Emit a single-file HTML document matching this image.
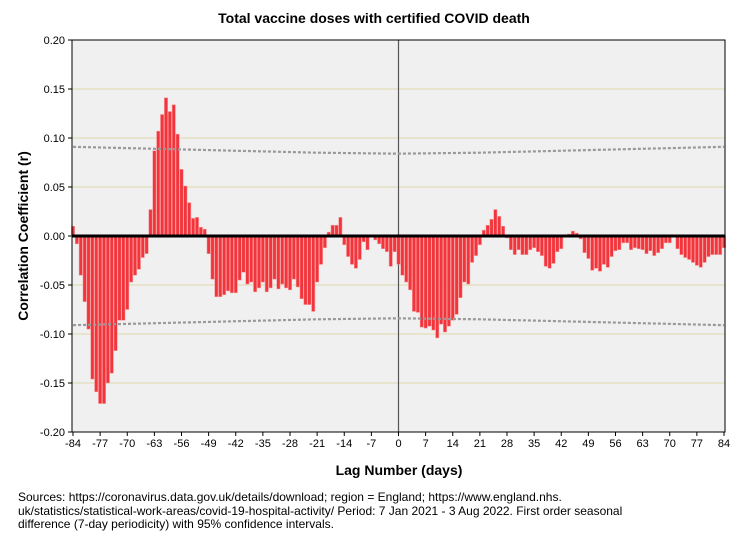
<!DOCTYPE html>
<html><head><meta charset="utf-8">
<style>
body{margin:0;background:#fff;font-family:"Liberation Sans",Arial,sans-serif;}
#wrap{position:relative;width:747px;height:541px;overflow:hidden;}
#src{position:absolute;left:18px;top:491px;width:720px;font-size:12px;line-height:13.5px;color:#000;white-space:nowrap;}
</style></head>
<body>
<div id="wrap">
<svg id="chart" width="747" height="541" style="position:absolute;left:0;top:0"></svg>
<div id="src">Sources: https://coronavirus.data.gov.uk/details/download; region = England; https://www.england.nhs.<br>uk/statistics/statistical-work-areas/covid-19-hospital-activity/ Period: 7 Jan 2021 - 3 Aug 2022. First order seasonal<br>difference (7-day periodicity) with 95% confidence intervals.</div>
</div>
<script>
const lagStart = -84;
const values = [
0.010,-0.008,-0.040,-0.067,-0.095,-0.146,-0.159,-0.171,-0.171,-0.150,-0.140,-0.117,-0.086,-0.086,-0.075,-0.047,-0.040,-0.034,-0.022,-0.018,
0.027,0.087,0.107,0.124,0.141,0.127,0.134,0.104,0.068,0.051,0.034,0.018,0.019,0.009,0.007,-0.018,-0.044,-0.062,-0.062,-0.060,
-0.056,-0.058,-0.058,-0.045,-0.037,-0.049,-0.047,-0.057,-0.053,-0.047,-0.057,-0.053,-0.044,-0.054,-0.049,-0.053,-0.055,-0.044,-0.052,-0.064,
-0.070,-0.070,-0.077,-0.047,-0.029,-0.012,0.004,0.011,0.011,0.019,-0.009,-0.021,-0.029,-0.033,-0.024,-0.006,-0.014,0.000,-0.004,-0.008,
-0.013,-0.016,-0.031,-0.016,-0.029,-0.040,-0.047,-0.055,-0.077,-0.078,-0.093,-0.094,-0.092,-0.096,-0.104,-0.090,-0.098,-0.092,-0.086,-0.080,
-0.063,-0.047,-0.049,-0.027,-0.020,-0.009,0.006,0.011,0.017,0.027,0.020,0.010,-0.002,-0.014,-0.019,-0.014,-0.019,-0.019,-0.014,-0.012,
-0.016,-0.020,-0.031,-0.033,-0.028,-0.016,-0.013,0.001,0.002,0.005,0.003,-0.003,-0.017,-0.023,-0.035,-0.033,-0.036,-0.029,-0.032,-0.021,
-0.015,-0.014,-0.007,-0.007,-0.014,-0.012,-0.013,-0.014,-0.018,-0.015,-0.020,-0.017,-0.013,-0.007,-0.007,-0.001,-0.013,-0.019,-0.022,-0.024,
-0.027,-0.030,-0.032,-0.027,-0.021,-0.019,-0.019,-0.019,-0.012
];
const ciLags = [-84,-63,-42,-21,0,21,42,63,84];
const ciUpper = [0.091,0.089,0.087,0.085,0.084,0.085,0.087,0.089,0.091];
const yTicks = [0.20,0.15,0.10,0.05,0.00,-0.05,-0.10,-0.15,-0.20];
const xTicks = [-84,-77,-70,-63,-56,-49,-42,-35,-28,-21,-14,-7,0,7,14,21,28,35,42,49,56,63,70,77,84];

const NS="http://www.w3.org/2000/svg";
const svg=document.getElementById('chart');
const L=72,R=725,T=40,B=432;
const xS=l=>L+1+(l+84)*(R-L-2)/168;
const yS=v=>T+(0.2-v)*(B-T)/0.4;
function mk(tag,attrs,parent){const e=document.createElementNS(NS,tag);for(const k in attrs)e.setAttribute(k,attrs[k]);(parent||svg).appendChild(e);return e;}

const bg=mk('rect',{x:L,y:T,width:R-L,height:B-T,fill:'#f0f0f0'});



yTicks.forEach(v=>{
  if(Math.abs(v)>0.001&&Math.abs(v)<0.2){
    const g=mk('line',{x1:L,x2:R,y1:yS(v),y2:yS(v),stroke:'#dcd7a8','stroke-width':1});
    
    
  }
  mk('line',{x1:L-4,x2:L,y1:yS(v),y2:yS(v),stroke:'#000'});
  const t=mk('text',{x:L-7,y:yS(v)+4,'text-anchor':'end','font-size':11,fill:'#000'});
  t.textContent=v.toFixed(2);
  
  
});

const vz=mk('line',{x1:xS(0),x2:xS(0),y1:T,y2:B,stroke:'#555','stroke-width':1.2});



const bw=(R-L-2)/168*0.85;
values.forEach((v,i)=>{
  const lag=lagStart+i;
  const y0=yS(0),y1=yS(v);
  const r=mk('rect',{x:xS(lag)-bw/2,y:Math.min(y0,y1),width:bw,height:Math.max(0.5,Math.abs(y1-y0)),fill:'#f2353d',stroke:'#f79a9a','stroke-width':0.5});
  
  
});

[1,-1].forEach(s=>{
  const p=ciLags.map((l,i)=>(i?'L':'M')+xS(l)+','+yS(s*ciUpper[i])).join(' ');
  const c=mk('path',{d:p,fill:'none',stroke:'#999','stroke-width':2.2,'stroke-dasharray':'3,2'});
  
  
});

const zl=mk('line',{x1:L,x2:R,y1:yS(0),y2:yS(0),stroke:'#000','stroke-width':3});



const fr=mk('rect',{x:L,y:T,width:R-L,height:B-T,fill:'none',stroke:'#000','stroke-width':1});



xTicks.forEach(l=>{
  mk('line',{x1:xS(l),x2:xS(l),y1:B,y2:B+4,stroke:'#000'});
  const t=mk('text',{x:xS(l),y:B+15,'text-anchor':'middle','font-size':11,fill:'#000'});
  t.textContent=l;
  
  
});

const ti=mk('text',{x:374,y:23,'text-anchor':'middle','font-size':14,'font-weight':'bold'});
ti.textContent='Total vaccine doses with certified COVID death';



const xt=mk('text',{x:399,y:475,'text-anchor':'middle','font-size':14,'font-weight':'bold'});
xt.textContent='Lag Number (days)';



const yt=mk('text',{x:0,y:0,'text-anchor':'middle','font-size':14,'font-weight':'bold',transform:'translate(28,236) rotate(-90)'});
yt.textContent='Correlation Coefficient (r)';


</script>
</body></html>
